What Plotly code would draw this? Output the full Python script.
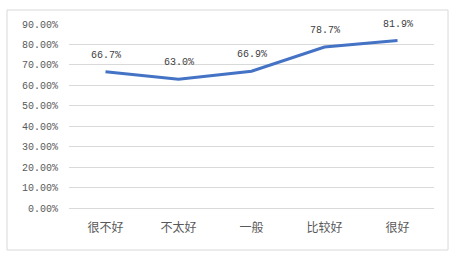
import plotly.graph_objects as go

categories = ["很不好", "不太好", "一般", "比较好", "很好"]
values = [0.667, 0.630, 0.669, 0.787, 0.819]
tick_vals = [i / 10 for i in range(10)]

fig = go.Figure()
fig.add_trace(go.Scatter(
    x=categories, y=values, mode="lines",
    line=dict(color="#4472C4", width=3),
    hoverinfo="skip", showlegend=False,
))

for c, v in zip(categories, values):
    fig.add_annotation(
        x=c, y=v, text=f"{v*100:.1f}%", showarrow=False,
        yshift=16.5, font=dict(family="Liberation Mono, monospace", size=10, color="#404040"),
    )

fig.add_shape(
    type="rect", xref="paper", yref="paper",
    x0=-0.1699, x1=1.0384, y0=-0.2283, y1=1.0761,
    line=dict(color="#D9D9D9", width=1), fillcolor="rgba(0,0,0,0)", layer="below",
)

fig.update_layout(
    width=454, height=258,
    margin=dict(l=69, r=20, t=24, b=50),
    paper_bgcolor="white", plot_bgcolor="white",
    xaxis=dict(
        type="category", range=[-0.5, 4.5], showgrid=False, showline=False,
        zeroline=False, ticks="", ticklabelstandoff=11,
        tickfont=dict(family="Noto Sans CJK SC", size=12, color="#595959"),
        fixedrange=True,
    ),
    yaxis=dict(
        range=[0, 0.9], tickvals=tick_vals, tickformat=".2%",
        showgrid=True, gridcolor="#D9D9D9", gridwidth=1,
        zeroline=True, zerolinecolor="#D9D9D9", zerolinewidth=1,
        showline=False, ticks="", ticklabelstandoff=10,
        tickfont=dict(family="Liberation Mono, monospace", size=10, color="#595959"),
        fixedrange=True,
    ),
)

fig.write_html("out.html")
